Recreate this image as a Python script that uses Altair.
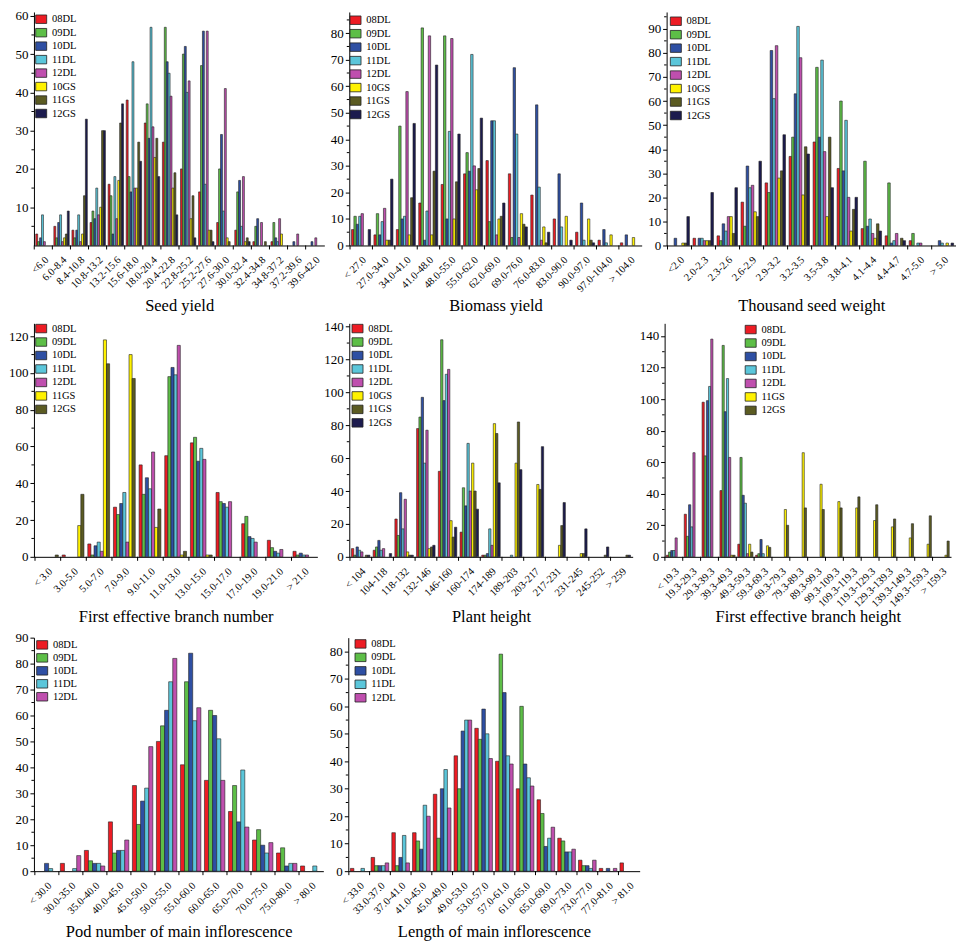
import altair as alt
import pandas as pd

FONT = "Liberation Serif"

# ---- series & colours (colour follows legend position) ----
COLORS8 = ["#ED1C24", "#5DBE47", "#2E4FA3", "#5BC6DA", "#BF4FAE", "#FFF200", "#5B5B22", "#1C1B4E"]
COLORS7 = ["#ED1C24", "#5DBE47", "#2E4FA3", "#5BC6DA", "#BF4FAE", "#FFF200", "#5B5B22"]
COLORS5 = ["#ED1C24", "#5DBE47", "#2E4FA3", "#5BC6DA", "#BF4FAE"]
SER8 = ["08DL", "09DL", "10DL", "11DL", "12DL", "10GS", "11GS", "12GS"]
SER7 = ["08DL", "09DL", "10DL", "11DL", "12DL", "11GS", "12GS"]
SER5 = ["08DL", "09DL", "10DL", "11DL", "12DL"]

# ---- Seed yield ----
seed_cats = ["<6.0", "6.0-8.4", "8.4-10.8", "10.8-13.2", "13.2-15.6", "15.6-18.0", "18.0-20.4",
             "20.4-22.8", "22.8-25.2", "25.2-27.6", "27.6-30.0", "30.0-32.4", "32.4-34.8",
             "34.8-37.2", "37.2-39.6", "39.6-42.0"]
seed_vals = {
    "08DL": [3, 5, 4, 6, 16, 38, 32, 27, 20, 14, 6, 4, 1, 1, 0, 0],
    "09DL": [1, 2, 2, 9, 13, 18, 37, 57, 50, 47, 20, 14, 5, 6, 0, 0],
    "10DL": [2, 6, 4, 7, 3, 14, 28, 48, 52, 56, 29, 17, 7, 2, 1, 1],
    "11DL": [8, 8, 8, 15, 18, 48, 57, 45, 40, 16, 9, 5, 0, 1, 0, 0],
    "12DL": [1, 1, 1, 8, 7, 15, 31, 39, 43, 56, 41, 18, 6, 7, 3, 2],
    "10GS": [0, 2, 3, 10, 17, 15, 23, 15, 7, 4, 2, 1, 0, 3, 0, 0],
    "11GS": [0, 3, 13, 30, 32, 27, 28, 19, 13, 4, 1, 2, 1, 0, 0, 0],
    "12GS": [0, 9, 33, 30, 37, 22, 18, 8, 2, 1, 0, 1, 0, 0, 0, 0],
}

# ---- Biomass yield ----
bio_cats = ["< 27.0", "27.0-34.0", "34.0-41.0", "41.0-48.0", "48.0-55.0", "55.0-62.0", "62.0-69.0",
            "69.0-76.0", "76.0-83.0", "83.0-90.0", "90.0-97.0", "97.0-104.0", "> 104.0"]
bio_vals = {
    "08DL": [6, 4, 6, 16, 23, 27, 32, 27, 19, 10, 5, 2, 1],
    "09DL": [11, 12, 45, 82, 79, 35, 9, 3, 0, 0, 0, 0, 0],
    "10DL": [8, 4, 10, 2, 10, 28, 47, 67, 53, 27, 16, 6, 4],
    "11DL": [11, 9, 11, 13, 43, 72, 47, 42, 22, 7, 2, 1, 0],
    "12DL": [12, 14, 58, 79, 78, 30, 4, 3, 2, 0, 0, 0, 0],
    "10GS": [0, 2, 4, 4, 10, 21, 10, 12, 7, 11, 10, 4, 3],
    "11GS": [0, 2, 18, 28, 24, 29, 11, 8, 1, 0, 2, 0, 0],
    "12GS": [6, 25, 46, 68, 42, 48, 16, 7, 5, 2, 1, 0, 0],
}

# ---- Thousand seed weight ----
tsw_cats = ["<2.0", "2.0-2.3", "2.3-2.6", "2.6-2.9", "2.9-3.2", "3.2-3.5", "3.5-3.8", "3.8-4.1",
            "4.1-4.4", "4.4-4.7", "4.7-5.0", "> 5.0"]
tsw_vals = {
    "08DL": [0, 3, 4, 18, 26, 37, 43, 32, 7, 4, 2, 0],
    "09DL": [0, 0, 2, 8, 22, 45, 74, 60, 35, 26, 5, 0],
    "10DL": [3, 3, 9, 33, 81, 63, 45, 31, 8, 1, 0, 2],
    "11DL": [0, 3, 6, 24, 61, 91, 77, 52, 11, 2, 1, 1],
    "12DL": [0, 2, 12, 25, 83, 78, 39, 20, 5, 5, 1, 0],
    "10GS": [1, 2, 12, 14, 28, 21, 12, 6, 3, 0, 0, 1],
    "11GS": [1, 2, 5, 12, 31, 41, 45, 15, 9, 3, 0, 0],
    "12GS": [12, 22, 24, 35, 46, 38, 24, 20, 6, 2, 0, 1],
}

# ---- First effective branch number ----
fbn_cats = ["< 3.0", "3.0-5.0", "5.0-7.0", "7.0-9.0", "9.0-11.0", "11.0-13.0", "13.0-15.0",
            "15.0-17.0", "17.0-19.0", "19.0-21.0", "> 21.0"]
fbn_vals = {
    "08DL": [0, 1, 7, 27, 50, 55, 62, 35, 18, 9, 3],
    "09DL": [0, 0, 1, 23, 34, 98, 65, 30, 22, 5, 1],
    "10DL": [0, 0, 6, 29, 43, 103, 52, 29, 11, 3, 2],
    "11DL": [0, 0, 8, 35, 37, 99, 59, 27, 10, 2, 1],
    "12DL": [0, 0, 3, 8, 57, 115, 53, 30, 8, 4, 1],
    "11GS": [0, 17, 118, 110, 16, 1, 1, 0, 0, 0, 0],
    "12GS": [1, 34, 105, 97, 26, 3, 1, 0, 0, 0, 0],
}

# ---- Plant height ----
ph_cats = ["< 104", "104-118", "118-132", "132-146", "146-160", "160-174", "174-189", "189-203",
           "203-217", "217-231", "231-245", "245-252", "> 259"]
ph_vals = {
    "08DL": [5, 4, 23, 78, 52, 15, 1, 0, 0, 0, 0, 0, 0],
    "09DL": [1, 6, 13, 85, 132, 42, 1, 0, 0, 0, 0, 0, 0],
    "10DL": [6, 10, 39, 97, 95, 31, 2, 0, 0, 0, 0, 0, 0],
    "11DL": [4, 4, 17, 57, 111, 69, 17, 1, 0, 0, 0, 0, 0],
    "12DL": [3, 5, 35, 77, 114, 40, 7, 0, 0, 0, 0, 0, 0],
    "10GS": [0, 0, 3, 5, 22, 57, 81, 57, 44, 7, 2, 0, 0],
    "11GS": [1, 0, 1, 6, 12, 40, 75, 82, 41, 19, 2, 1, 1],
    "12GS": [1, 2, 1, 7, 18, 29, 45, 53, 67, 33, 17, 6, 1],
}

# ---- First effective branch height ----
fbh_cats = ["< 19.3", "19.3-29.3", "29.3-39.3", "39.3-49.3", "49.3-59.3", "59.3-69.3", "69.3-79.3",
            "79.3-89.3", "89.3-99.3", "99.3-109.3", "109.3-119.3", "119.3-129.3", "129.3-139.3",
            "139.3-149.3", "149.3-159.3", "> 159.3"]
fbh_vals = {
    "08DL": [1, 27, 98, 42, 8, 1, 0, 0, 0, 0, 0, 0, 0, 0, 0, 0],
    "09DL": [3, 13, 64, 134, 63, 2, 0, 0, 0, 0, 0, 0, 0, 0, 0, 0],
    "10DL": [4, 33, 99, 92, 39, 11, 0, 0, 0, 0, 0, 0, 0, 0, 0, 0],
    "11DL": [4, 19, 108, 113, 34, 2, 0, 0, 0, 0, 0, 0, 0, 0, 0, 0],
    "12DL": [12, 66, 138, 63, 2, 0, 0, 0, 0, 0, 0, 0, 0, 0, 0, 0],
    "11GS": [0, 0, 0, 1, 8, 7, 30, 66, 46, 35, 31, 23, 19, 12, 8, 1],
    "12GS": [0, 0, 0, 1, 3, 6, 20, 31, 30, 31, 38, 33, 24, 21, 26, 10],
}

# ---- Pod number of main inflorescence ----
pod_cats = ["< 30.0", "30.0-35.0", "35.0-40.0", "40.0-45.0", "45.0-50.0", "50.0-55.0", "55.0-60.0",
            "60.0-65.0", "65.0-70.0", "70.0-75.0", "75.0-80.0", "> 80.0"]
pod_vals = {
    "08DL": [0, 3, 8, 19, 33, 50, 41, 35, 23, 12, 7, 2],
    "09DL": [0, 0, 4, 7, 18, 56, 73, 62, 33, 16, 9, 0],
    "10DL": [3, 0, 3, 8, 27, 62, 84, 60, 19, 10, 2, 0],
    "11DL": [1, 1, 3, 8, 32, 73, 58, 51, 39, 7, 3, 2],
    "12DL": [0, 6, 2, 12, 48, 82, 63, 35, 17, 11, 3, 0],
}

# ---- Length of main inflorescence ----
len_cats = ["< 33.0", "33.0-37.0", "37.0-41.0", "41.0-45.0", "45.0-49.0", "49.0-53.0", "53.0-57.0",
            "57.0-61.0", "61.0-65.0", "65.0-69.0", "69.0-73.0", "73.0-77.0", "77.0-81.0", "> 81.0"]
len_vals = {
    "08DL": [1, 5, 14, 14, 28, 42, 52, 40, 30, 26, 12, 4, 1, 3],
    "09DL": [0, 2, 2, 11, 12, 30, 48, 79, 60, 21, 11, 2, 0, 0],
    "10DL": [0, 2, 5, 8, 30, 51, 59, 65, 39, 9, 7, 2, 1, 0],
    "11DL": [1, 2, 13, 24, 37, 55, 50, 42, 34, 12, 7, 1, 0, 0],
    "12DL": [0, 3, 3, 20, 23, 55, 41, 39, 31, 16, 8, 4, 1, 0],
}

H = 234
RECT = "M-1.3,-1H1.3V1H-1.3Z"


def panel(title, cats, series, colors, vals, ymax, yticks, minor, width, lx, ly, rowpad=0.5):
    rows = []
    for s in series:
        for c, v in zip(cats, vals[s]):
            if v > 0:
                rows.append({"cat": c, "series": s, "value": v})
    df = pd.DataFrame(rows)
    xscale = alt.Scale(domain=cats, paddingInner=0.15, paddingOuter=0.1)
    yscale = alt.Scale(domain=[0, ymax], nice=False)
    xaxis = alt.Axis(title=title, labelAngle=-45, labelFontSize=10.5, labelPadding=9, tickSize=0,
                     labelOverlap=False, titleFontSize=16.5, titleFontWeight="normal",
                     titleY=65, titleBaseline="alphabetic")
    yaxis = alt.Axis(values=yticks, title=None, labelFontSize=13, tickSize=4, labelPadding=2)
    bars = alt.Chart(df).mark_bar(stroke="#222222", strokeWidth=0.6).encode(
        x=alt.X("cat:N", scale=xscale, axis=xaxis),
        xOffset=alt.XOffset("series:N", scale=alt.Scale(domain=series, paddingInner=0, paddingOuter=0)),
        y=alt.Y("value:Q", scale=yscale, axis=yaxis),
        color=alt.Color("series:N", scale=alt.Scale(domain=series, range=colors),
                        legend=alt.Legend(title=None, orient="none", legendX=lx, legendY=ly, padding=0,
                                          symbolType=RECT, symbolSize=72, symbolStrokeColor="#222222",
                                          symbolStrokeWidth=0.8, labelFont=FONT, labelFontSize=10.5,
                                          rowPadding=rowpad, labelOffset=5.5)),
    )
    xticks = alt.Chart(pd.DataFrame({"cat": cats})).mark_rule(color="black", strokeWidth=1, xOffset=-1.5).encode(
        x=alt.X("cat:N", scale=xscale, axis=xaxis, bandPosition=0),
        y=alt.value(H), y2=alt.value(H + 4),
    )
    yminor = alt.Chart(pd.DataFrame({"value": minor})).mark_rule(color="black", strokeWidth=1).encode(
        y=alt.Y("value:Q", scale=yscale, axis=yaxis),
        x=alt.value(0), x2=alt.value(-2.5),
    )
    return alt.layer(bars, xticks, yminor).properties(width=width, height=H)


def halves(step, top):
    out = []
    v = step / 2
    while v < top:
        out.append(v)
        v += step
    return out


p1 = panel("Seed yield", seed_cats, SER8, COLORS8, seed_vals, 61, [10, 20, 30, 40, 50, 60], halves(10, 61), 291, 2, 2)
p2 = panel("Biomass yield", bio_cats, SER8, COLORS8, bio_vals, 88, list(range(0, 81, 10)), halves(10, 88), 293, 1, 3)
p3 = panel("Thousand seed weight", tsw_cats, SER8, COLORS8, tsw_vals, 97, list(range(0, 91, 10)), halves(10, 97), 290, 4, 4)
p4 = panel("First effective branch number", fbn_cats, SER7, COLORS7, fbn_vals, 127, list(range(0, 121, 20)), halves(20, 127), 284, 2, 0)
p5 = panel("Plant height", ph_cats, SER8, COLORS8, ph_vals, 142, list(range(0, 141, 20)), halves(20, 142), 284, 3, 0)
p6 = panel("First effective branch height", fbh_cats, SER7, COLORS7, fbh_vals, 148, list(range(0, 141, 20)), halves(20, 148), 287, 81, 1)
p7 = panel("Pod number of main inflorescence", pod_cats, SER5, COLORS5, pod_vals, 90, list(range(0, 91, 10)), halves(10, 90), 290, 3, 2, 0)
p8 = panel("Length of main inflorescence", len_cats, SER5, COLORS5, len_vals, 85, list(range(0, 81, 10)), halves(10, 85), 292, 7, 1)

res = dict(x="independent", y="independent", color="independent", xOffset="independent")
row1 = alt.hconcat(p1, p2, p3, spacing=6).resolve_scale(**res)
row2 = alt.hconcat(p4, p5, p6, spacing=6).resolve_scale(**res)
row3 = alt.hconcat(p7, p8, spacing=6).resolve_scale(**res)

chart = (
    alt.vconcat(row1, row2, row3, spacing=6)
    .resolve_scale(**res)
    .properties(padding=0)
    .configure(font=FONT)
    .configure_axis(labelFont=FONT, titleFont=FONT, labelColor="black", titleColor="black",
                    domainColor="black", tickColor="black", grid=False, domainWidth=1)
    .configure_legend(labelFont=FONT, labelColor="black")
    .configure_view(stroke=None)
)

chart.save("out.html", embed_options={"renderer": "svg", "actions": False})
